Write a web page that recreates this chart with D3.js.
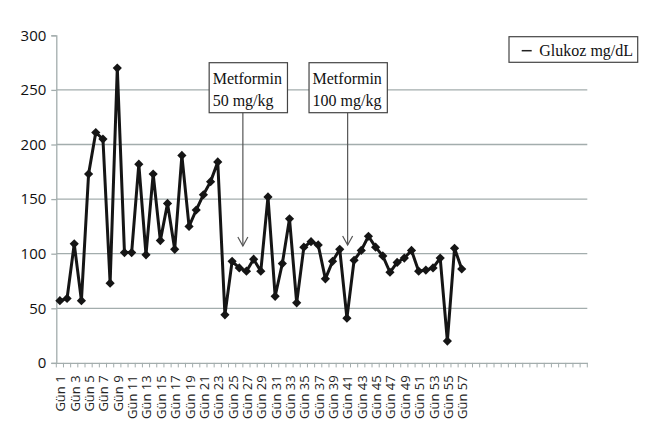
<!DOCTYPE html>
<html><head><meta charset="utf-8">
<script src="https://cdn.jsdelivr.net/npm/d3@7"></script>
<style>html,body{margin:0;padding:0;background:#fff;}svg{display:block;}</style>
</head><body>
<svg id="chart" width="656" height="426"></svg>
<script>
// ---- data ----
const dayNumbers = d3.range(1, 75);                 // 74 category slots on the axis
const categories = dayNumbers.map(d => "Gün " + d);
const labelledDays = [1,3,5,7,9,11,13,15,17,19,21,23,25,27,29,31,33,35,37,39,41,43,45,47,49,51,53,55,57];
const seriesName = "Glukoz mg/dL";
const glucose = [57,59,109,57,173,211,205,73,270,101,
                 101,182,99,173,112,146,104,190,125,140,
                 154,166,184,44,93,87,84,95,84,152,
                 61,91,132,55,106,111,108,77,93,104,
                 41,94,103,116,106,98,83,92,96,103,
                 84,85,87,96,20,105,86];
const yTicks = [0,50,100,150,200,250,300];
const gridValues = [50,100,150,200,250];
const annotations = [
  {line1:"Metformin", line2:"50 mg/kg", at:26.5, tip:107},
  {line1:"Metformin", line2:"100 mg/kg", at:41.1, tip:108}
];

// ---- layout ----
const svg = d3.select("#chart");
const pLeft = 56.3, pRight = 587.3, pTop = 35.3, pBottom = 362.9;
const x = d3.scaleBand().domain(categories).range([pLeft, pRight]).padding(0);
const y = d3.scaleLinear().domain([0, 300]).range([pBottom, pTop]);
const bw = x.bandwidth();
const cx = d => x("Gün " + d) + bw / 2;
const fracX = v => pLeft + (v - 0.5) * bw;
const axisCol = "#a3adad";

// gridlines
svg.append("g").selectAll("line").data(gridValues).join("line")
  .attr("x1", pLeft).attr("x2", pRight)
  .attr("y1", d => y(d)).attr("y2", d => y(d))
  .attr("stroke", axisCol).attr("stroke-width", 1.3);

// y axis
const yAxis = d3.axisLeft(y).tickValues(yTicks).tickSize(5).tickPadding(5).tickFormat(d3.format("d"));
const gy = svg.append("g").attr("transform", `translate(${pLeft},0)`).call(yAxis);
gy.select(".domain").attr("stroke", axisCol).attr("stroke-width", 1.3);
gy.selectAll(".tick line").attr("stroke", axisCol).attr("stroke-width", 1.3);
gy.selectAll(".tick text").attr("font-family", "'Open Sans', sans-serif").attr("font-size", 15).attr("fill", "#111").attr("x", -10);

// x axis
const xAxis = d3.axisBottom(x).tickSizeInner(0).tickSizeOuter(0)
  .tickFormat(d => labelledDays.includes(+d.split(" ")[1]) ? d : "");
const gx = svg.append("g").attr("transform", `translate(0,${pBottom})`).call(xAxis);
gx.select(".domain").attr("stroke", axisCol).attr("stroke-width", 1.3);
gx.selectAll(".tick text")
  .attr("font-family", "'Open Sans', sans-serif").attr("font-size", 13).attr("fill", "#222")
  .attr("text-anchor", "end").attr("transform", "rotate(-90)")
  .attr("x", -12.5).attr("y", 0.8).attr("dy", "0.36em").attr("dx", 0);
// category boundary ticks
svg.append("g").selectAll("line").data(categories.concat(["end"])).join("line")
  .attr("x1", (d, i) => pLeft + i * bw).attr("x2", (d, i) => pLeft + i * bw)
  .attr("y1", pBottom).attr("y2", pBottom + 4.5)
  .attr("stroke", axisCol).attr("stroke-width", 1);

// series line
const pts = glucose.map((v, i) => ({d: i + 1, v}));
svg.append("path").datum(pts)
  .attr("fill", "none").attr("stroke", "#151515").attr("stroke-width", 3).attr("stroke-linejoin", "round")
  .attr("d", d3.line().x(p => cx(p.d)).y(p => y(p.v)));
const r = 4.6;
svg.append("g").selectAll("path").data(pts).join("path")
  .attr("d", `M0,${-r}L${r},0L0,${r}L${-r},0Z`)
  .attr("transform", p => `translate(${cx(p.d)},${y(p.v)})`)
  .attr("fill", "#151515");

// annotations
const annG = svg.append("g");
annotations.forEach((a, i) => {
  const ax = fracX(a.at);
  const bx = i === 0 ? ax - 33.7 : ax - 38.6;
  const bwid = 78.3, btop = 62.7, bh = 50;
  annG.append("line").attr("x1", ax).attr("x2", ax).attr("y1", btop + bh).attr("y2", y(a.tip))
    .attr("stroke", "#555").attr("stroke-width", 1.2);
  annG.append("path")
    .attr("d", `M${ax - 5},${y(a.tip) - 9}L${ax},${y(a.tip)}L${ax + 5},${y(a.tip) - 9}`)
    .attr("fill", "none").attr("stroke", "#555").attr("stroke-width", 1.2);
  annG.append("rect").attr("x", bx).attr("y", btop).attr("width", bwid).attr("height", bh)
    .attr("fill", "#fff").attr("stroke", "#444").attr("stroke-width", 1.2);
  annG.append("text").attr("x", bx + 3.5).attr("y", 83.5).text(a.line1)
    .attr("font-family", "'Liberation Serif', serif").attr("font-size", 16).attr("fill", "#111");
  annG.append("text").attr("x", bx + 3.5).attr("y", 105.5).text(a.line2)
    .attr("font-family", "'Liberation Serif', serif").attr("font-size", 16).attr("fill", "#111");
});

// legend
const lg = svg.append("g");
lg.append("rect").attr("x", 509).attr("y", 36.7).attr("width", 128.7).attr("height", 25.6)
  .attr("fill", "#fff").attr("stroke", "#444").attr("stroke-width", 1.2);
lg.append("line").attr("x1", 521.7).attr("x2", 531.7).attr("y1", 50.7).attr("y2", 50.7)
  .attr("stroke", "#222").attr("stroke-width", 1.5);
lg.append("text").attr("x", 539.3).attr("y", 55.5).text(seriesName)
  .attr("font-family", "'Liberation Serif', serif").attr("font-size", 16).attr("fill", "#111");
</script>
</body></html>
